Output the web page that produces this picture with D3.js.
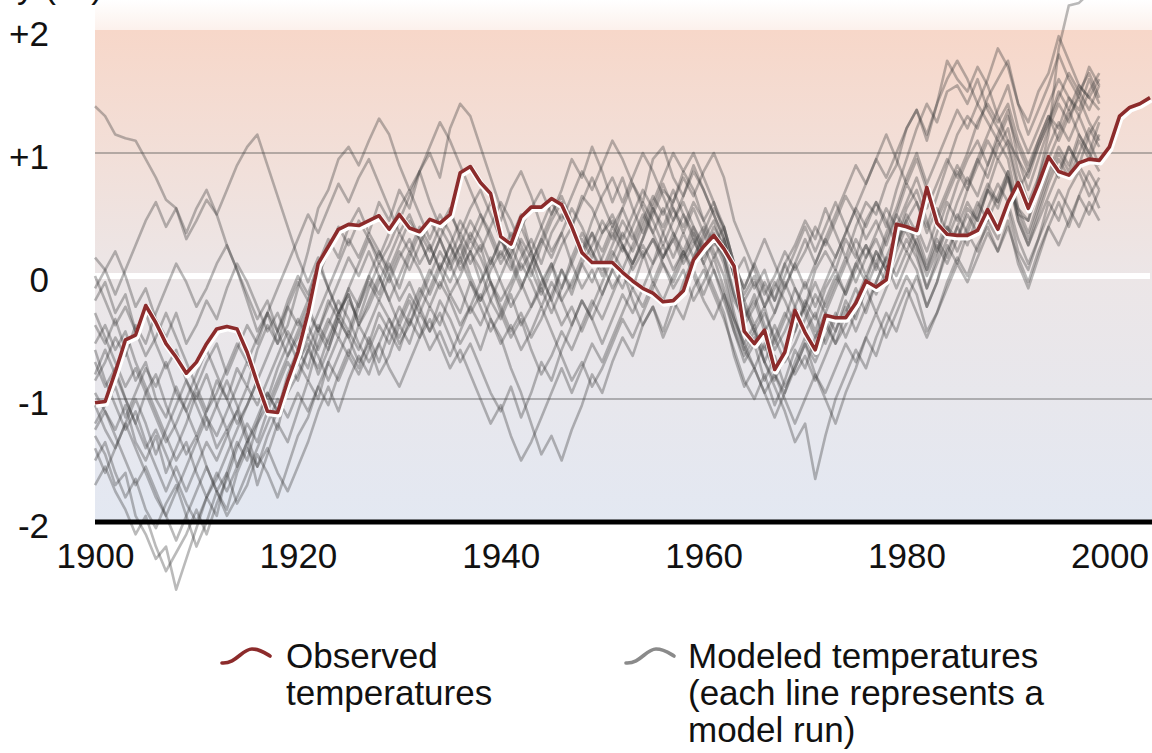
<!DOCTYPE html>
<html>
<head>
<meta charset="utf-8">
<script src="https://cdn.jsdelivr.net/npm/d3@7"></script>
<style>
  body { margin: 0; background: #fff; }
  svg { display: block; font-family: "Liberation Sans", Arial, sans-serif; }
</style>
</head>
<body>
<div class="chart"></div>
<script>
// x axis tick labels and y axis ticks
const xTicks = [1900, 1920, 1940, 1960, 1980, 2000];
const yTicks = [-2, -1, 0, 1, 2];

// observed temperature anomaly (°F), one value per year from 1900
const obsStart = 1900;
const observed = [
  -1.03, -1.02, -0.78, -0.52, -0.48, -0.24, -0.38, -0.55, -0.66, -0.79,
  -0.70, -0.55, -0.43, -0.41, -0.43, -0.62, -0.87, -1.10, -1.11, -0.85,
  -0.62, -0.30, 0.10, 0.24, 0.38, 0.42, 0.41, 0.45, 0.49, 0.38,
  0.50, 0.39, 0.36, 0.46, 0.43, 0.50, 0.84, 0.89, 0.76, 0.67,
  0.32, 0.26, 0.48, 0.56, 0.56, 0.63, 0.58, 0.40, 0.19, 0.11,
  0.11, 0.11, 0.03, -0.04, -0.10, -0.14, -0.21, -0.20, -0.12, 0.13,
  0.24, 0.33, 0.22, 0.08, -0.45, -0.55, -0.44, -0.76, -0.62, -0.28,
  -0.46, -0.60, -0.32, -0.34, -0.34, -0.22, -0.04, -0.09, -0.03, 0.42,
  0.40, 0.37, 0.72, 0.43, 0.34, 0.33, 0.33, 0.37, 0.54, 0.38,
  0.60, 0.76, 0.55, 0.75, 0.97, 0.85, 0.82, 0.92, 0.95, 0.94,
  1.05, 1.30, 1.37, 1.40, 1.45
];

// modeled runs, one value per year from 1900 to 1999
const modelStart = 1900;
const modelRuns = [
  [1.38,1.30,1.15,1.12,1.10,0.95,0.80,0.62,0.55,0.30, 0.45,0.62,0.50,0.25,0.05,-0.20,-0.45,-0.30,-0.55,-0.40,
   -0.10,0.20,0.55,0.70,0.95,1.05,0.90,1.10,1.28,1.15, 0.90,0.70,0.85,0.60,0.40,0.55,0.30,0.10,0.25,-0.05,
   -0.20,-0.05,0.15,0.30,0.10,0.35,0.50,0.40,0.65,0.55, 0.35,0.45,0.25,0.10,0.30,0.50,0.70,0.60,0.85,0.70,
   0.45,0.60,0.35,0.05,-0.20,-0.40,-0.25,-0.55,-0.35,-0.10, -0.25,0.05,0.20,0.05,0.30,0.15,0.45,0.60,0.40,0.70,
   0.95,1.20,1.40,1.25,1.50,1.55,1.40,1.60,1.35,1.20, 1.05,0.70,0.85,1.10,1.30,1.20,1.45,1.35,1.60,1.40],
  [-1.30,-1.45,-1.70,-1.60,-1.95,-2.10,-2.30,-2.20,-2.55,-2.30, -2.05,-1.80,-1.95,-1.60,-1.35,-1.50,-1.20,-1.05,-1.25,-0.90,
   -0.70,-0.85,-0.55,-0.35,-0.50,-0.20,-0.35,-0.10,0.10,-0.05, 0.15,0.30,0.10,0.25,0.05,-0.15,0.00,0.20,0.05,-0.20,
   -0.35,-0.15,-0.40,-0.25,-0.05,0.10,-0.10,0.15,0.35,0.20, 0.05,0.25,0.45,0.30,0.50,0.35,0.15,0.30,0.10,0.25,
   0.40,0.20,0.00,-0.35,-0.55,-0.40,-0.70,-0.50,-0.30,-0.45, -0.20,-0.35,-0.10,0.05,-0.15,0.10,0.25,0.05,0.30,0.50,
   0.35,0.20,-0.10,0.15,0.40,0.30,0.55,0.45,0.70,0.60, 0.85,0.50,0.45,0.80,1.15,1.85,2.20,2.22,2.30,2.40],
  [-0.40,-0.55,-0.35,-0.60,-0.85,-0.70,-1.00,-1.15,-0.90,-1.10, -1.30,-1.10,-0.85,-1.00,-0.75,-0.90,-0.60,-0.40,-0.55,-0.25,
   -0.05,-0.20,0.10,0.30,0.15,0.40,0.55,0.35,0.60,0.45, 0.70,0.55,0.85,1.00,0.80,1.20,1.40,1.30,1.05,0.80,
   0.55,0.30,0.50,0.20,0.00,-0.20,0.05,-0.15,0.10,0.25, 0.45,0.30,0.55,0.75,0.60,0.95,1.05,0.80,0.65,0.90,
   0.70,0.50,0.30,0.00,0.15,-0.10,0.05,-0.20,0.10,0.25, 0.45,0.30,0.55,0.35,0.15,0.40,0.60,0.50,0.75,0.90,
   1.20,1.35,1.10,1.40,1.75,1.60,1.50,1.70,1.55,1.30, 1.10,0.95,0.80,1.05,1.25,1.50,1.35,1.55,1.45,1.60],
  [-0.95,-1.10,-1.25,-1.05,-1.35,-1.50,-1.30,-1.60,-1.40,-1.20, -0.95,-1.15,-1.40,-1.25,-1.55,-1.35,-1.70,-1.45,-1.20,-1.35,
   -1.10,-0.85,-1.00,-0.70,-0.50,-0.65,-0.40,-0.55,-0.30,-0.45, -0.60,-0.35,-0.50,-0.25,-0.40,-0.15,-0.30,-0.05,-0.20,0.05,
   0.20,0.05,0.30,0.15,-0.10,0.10,-0.20,-0.05,0.15,0.35, 0.20,0.40,0.25,0.05,0.20,-0.05,0.15,0.30,0.50,0.35,
   0.15,0.30,0.10,-0.30,-0.60,-0.75,-0.55,-0.80,-0.95,-0.70, -0.50,-0.65,-0.40,-0.55,-0.30,-0.10,-0.30,-0.05,0.15,0.00,
   0.20,0.05,-0.25,-0.05,0.25,0.10,0.35,0.20,0.45,0.30, 0.55,0.20,0.05,0.30,0.60,0.45,0.70,0.85,0.65,0.80],
  [-0.20,-0.05,-0.30,-0.15,-0.45,-0.30,-0.55,-0.75,-0.60,-0.85, -1.00,-0.80,-1.05,-1.25,-1.10,-1.35,-1.20,-0.95,-1.10,-0.80,
   -0.60,-0.75,-0.45,-0.60,-0.35,-0.50,-0.70,-0.55,-0.80,-0.65, -0.40,-0.55,-0.30,-0.45,-0.20,-0.35,-0.55,-0.40,-0.60,-0.35,
   -0.50,-0.75,-0.95,-1.20,-1.45,-1.30,-1.50,-1.25,-1.05,-0.80, -0.95,-0.70,-0.50,-0.65,-0.40,-0.25,-0.45,-0.20,-0.35,-0.10,
   0.05,-0.15,-0.35,-0.60,-0.85,-1.00,-0.80,-1.05,-0.85,-0.60, -0.75,-0.50,-0.30,-0.45,-0.20,-0.35,-0.10,0.10,-0.05,0.20,
   0.40,0.25,0.05,0.30,0.15,0.40,0.60,0.45,0.70,0.95, 0.80,0.55,0.35,0.60,0.85,1.05,0.90,1.15,1.00,1.25],
  [-1.50,-1.35,-1.60,-1.80,-1.65,-1.90,-2.05,-1.85,-1.70,-1.95, -2.20,-2.00,-1.75,-1.90,-1.60,-1.40,-1.55,-1.30,-1.10,-0.95,
   -0.80,-0.60,-0.75,-0.50,-0.30,-0.45,-0.20,0.00,-0.15,0.10, -0.10,0.15,0.35,0.20,0.40,0.25,0.05,0.20,-0.05,0.10,
   0.30,0.15,0.40,0.55,0.70,0.50,0.65,0.45,0.20,0.35, 0.10,-0.10,0.05,-0.20,-0.40,-0.25,-0.50,-0.30,-0.05,0.15,
   0.30,0.45,0.20,-0.15,-0.35,-0.20,-0.45,-0.30,-0.05,-0.25, -0.45,-0.30,-0.55,-0.35,-0.10,0.10,-0.05,0.20,0.05,0.30,
   0.55,0.70,0.45,0.20,0.50,0.75,0.95,1.10,0.90,1.15, 1.35,0.95,0.70,0.95,1.20,1.40,1.25,1.50,1.65,1.45],
  [-0.70,-0.90,-0.75,-1.00,-1.20,-0.95,-0.80,-1.05,-1.25,-1.45, -1.30,-1.55,-1.75,-1.60,-1.85,-1.70,-1.45,-1.60,-1.80,-1.55,
   -1.30,-1.15,-0.90,-1.05,-0.80,-0.60,-0.75,-0.50,-0.70,-0.45, -0.25,-0.40,-0.15,0.05,-0.10,0.15,0.35,0.20,0.40,0.60,
   0.45,0.70,0.85,0.65,0.40,0.20,0.35,0.10,-0.10,0.05, -0.15,0.05,0.25,0.10,0.30,0.55,0.40,0.60,0.80,0.65,
   0.85,1.00,0.80,0.45,0.25,0.05,-0.15,0.00,0.20,0.05, 0.20,0.40,0.25,0.45,0.65,0.50,0.30,0.45,0.25,0.50,
   0.75,0.60,0.40,0.65,0.90,1.15,1.30,1.20,1.45,1.60, 1.75,1.40,1.15,1.35,1.55,1.80,1.60,1.45,1.70,1.55],
  [-0.10,0.05,0.20,0.00,-0.25,-0.10,-0.35,-0.50,-0.30,-0.55, -0.40,-0.20,-0.35,-0.10,0.10,-0.05,-0.25,-0.45,-0.30,-0.50,
   -0.70,-0.55,-0.80,-0.60,-0.35,-0.50,-0.25,-0.05,-0.20,0.00, 0.20,0.05,0.25,0.45,0.30,0.10,0.25,0.00,-0.20,-0.05,
   -0.30,-0.50,-0.35,-0.60,-0.80,-0.65,-0.45,-0.60,-0.40,-0.20, -0.35,-0.15,0.05,-0.10,0.15,0.30,0.15,0.35,0.20,0.40,
   0.25,0.05,-0.20,-0.45,-0.70,-0.55,-0.85,-0.65,-0.90,-0.75, -0.55,-0.80,-1.00,-1.20,-0.95,-0.75,-0.50,-0.65,-0.40,-0.20,
   0.00,-0.15,-0.45,-0.30,-0.05,0.15,0.00,0.25,0.40,0.20, 0.45,0.10,-0.10,0.15,0.40,0.60,0.40,0.65,0.85,0.70],
  [-1.20,-1.05,-0.90,-1.15,-0.95,-0.75,-0.90,-0.70,-0.95,-1.10, -0.90,-0.70,-0.55,-0.80,-0.60,-0.40,-0.55,-0.30,-0.45,-0.20,
   0.00,-0.15,0.10,-0.10,-0.30,-0.15,-0.40,-0.25,-0.05,0.15, 0.35,0.20,0.40,0.25,0.05,0.25,0.45,0.30,0.50,0.35,
   0.15,0.35,0.20,0.00,0.25,0.45,0.60,0.40,0.60,0.80, 0.60,0.40,0.55,0.35,0.15,0.30,0.10,-0.10,0.05,-0.20,
   -0.05,0.15,-0.10,-0.40,-0.60,-0.45,-0.70,-0.90,-1.10,-1.35, -1.20,-1.65,-1.30,-1.00,-0.80,-0.60,-0.75,-0.50,-0.30,-0.45,
   -0.20,0.00,-0.25,-0.05,0.20,0.40,0.25,0.50,0.70,0.55, 0.80,0.50,0.30,0.55,0.80,1.00,0.85,1.10,0.95,1.15],
  [-0.55,-0.40,-0.60,-0.45,-0.70,-0.90,-1.10,-1.30,-1.50,-1.35, -1.60,-1.80,-1.65,-1.45,-1.25,-1.05,-0.85,-1.00,-0.75,-0.55,
   -0.35,-0.50,-0.30,-0.10,0.10,0.30,0.15,0.35,0.20,0.00, -0.20,-0.05,-0.25,-0.45,-0.30,-0.50,-0.70,-0.55,-0.75,-0.95,
   -1.10,-0.90,-1.15,-0.95,-0.70,-0.85,-0.60,-0.40,-0.20,-0.35, -0.15,0.05,-0.10,0.10,0.25,0.10,0.35,0.55,0.40,0.60,
   0.45,0.25,0.40,0.10,-0.15,0.00,-0.25,-0.05,-0.20,-0.40, -0.25,-0.45,-0.20,0.00,-0.15,0.05,0.25,0.10,0.35,0.55,
   0.80,1.00,0.75,0.95,1.15,1.35,1.20,1.40,1.60,1.85, 1.70,1.40,1.25,1.50,1.65,1.95,1.75,1.55,1.45,1.35],
  [-0.85,-0.70,-0.50,-0.65,-0.40,-0.55,-0.30,-0.10,0.10,-0.05, -0.25,-0.10,0.10,0.25,0.05,-0.15,-0.35,-0.20,-0.45,-0.65,
   -0.50,-0.30,-0.45,-0.20,-0.35,-0.10,0.10,0.30,0.15,0.35, 0.55,0.70,0.50,0.30,0.50,0.35,0.15,0.35,0.20,0.40,
   0.60,0.45,0.25,0.05,-0.15,0.05,0.25,0.40,0.20,0.45, 0.65,0.80,0.60,0.80,1.00,0.85,0.65,0.45,0.60,0.40,
   0.20,0.35,0.15,-0.15,-0.40,-0.25,-0.05,-0.20,0.00,0.20, 0.40,0.20,0.40,0.60,0.40,0.20,0.00,0.20,0.05,0.25,
   0.50,0.35,0.10,0.35,0.60,0.45,0.70,0.95,0.80,1.05, 1.20,0.85,0.60,0.80,1.05,1.25,1.10,1.30,1.50,1.65],
  [-1.70,-1.55,-1.75,-1.90,-2.10,-1.95,-2.20,-2.40,-2.25,-2.10, -1.90,-2.10,-1.85,-1.65,-1.40,-1.20,-1.35,-1.10,-0.90,-0.70,
   -0.85,-0.60,-0.40,-0.55,-0.30,-0.10,-0.25,0.00,0.20,0.05, 0.25,0.45,0.30,0.10,0.30,0.50,0.35,0.55,0.70,0.50,
   0.30,0.10,-0.10,0.10,0.30,0.15,0.35,0.55,0.40,0.20, 0.00,0.20,0.05,0.25,0.45,0.65,0.50,0.70,0.50,0.30,
   0.10,-0.10,-0.30,-0.65,-0.90,-0.75,-0.95,-1.15,-0.95,-0.75, -0.55,-0.70,-0.50,-0.30,-0.50,-0.30,-0.10,-0.30,-0.10,0.10,
   0.30,0.15,-0.10,0.10,0.30,0.50,0.35,0.55,0.75,0.60, 0.80,0.45,0.25,0.50,0.75,0.95,0.80,1.00,1.20,1.05],
  [0.15,0.05,-0.15,0.05,0.25,0.45,0.60,0.40,0.55,0.35, 0.55,0.70,0.50,0.70,0.90,1.05,1.15,0.90,0.65,0.40,
   0.15,-0.05,0.15,-0.10,-0.30,-0.15,-0.40,-0.20,0.00,-0.20, -0.40,-0.20,-0.40,-0.60,-0.45,-0.65,-0.45,-0.25,-0.40,-0.20,
   0.00,0.20,0.40,0.20,0.40,0.60,0.45,0.65,0.85,0.70, 0.90,1.10,0.95,0.75,0.55,0.35,0.55,0.35,0.15,0.30,
   0.10,0.30,0.15,-0.20,-0.35,-0.15,-0.40,-0.60,-0.45,-0.25, -0.05,-0.25,-0.05,0.15,0.35,0.55,0.40,0.60,0.45,0.25,
   0.45,0.60,0.35,0.55,0.35,0.60,0.80,0.65,0.90,1.10, 0.95,0.55,0.45,0.70,0.95,0.80,1.05,0.90,1.15,1.30],
  [-1.05,-1.25,-1.40,-1.20,-1.00,-1.20,-1.45,-1.25,-1.05,-0.85, -1.05,-1.25,-1.05,-0.85,-1.05,-1.30,-1.55,-1.40,-1.60,-1.75,
   -1.55,-1.35,-1.10,-0.90,-1.10,-0.85,-0.65,-0.80,-0.55,-0.35, -0.50,-0.30,-0.10,-0.25,-0.05,-0.20,-0.40,-0.25,-0.05,0.15,
   -0.05,-0.25,-0.10,0.10,0.30,0.50,0.70,0.95,0.80,1.05, 0.85,0.60,0.80,0.55,0.35,0.55,0.35,0.15,0.35,0.15,
   0.35,0.55,0.40,0.10,-0.10,0.10,0.30,0.10,-0.10,0.10, -0.10,0.10,0.30,0.15,0.35,0.55,0.75,0.95,0.80,1.00,
   1.20,1.35,1.15,1.40,1.60,1.75,1.60,1.40,1.25,1.10, 1.30,1.05,0.85,1.05,1.25,1.45,1.65,1.50,1.35,1.55],
  [-0.60,-0.85,-1.05,-1.25,-1.10,-1.35,-1.55,-1.75,-1.55,-1.75, -1.55,-1.35,-1.50,-1.30,-1.10,-0.90,-1.05,-0.85,-0.65,-0.45,
   -0.60,-0.40,-0.60,-0.40,-0.20,-0.35,-0.55,-0.70,-0.55,-0.75, -0.90,-0.70,-0.50,-0.35,-0.55,-0.75,-0.60,-0.80,-1.00,-1.20,
   -1.05,-1.30,-1.50,-1.35,-1.15,-0.95,-0.75,-0.95,-0.75,-0.55, -0.70,-0.50,-0.30,-0.10,-0.25,-0.05,-0.20,0.00,0.20,0.05,
   -0.15,0.05,-0.15,-0.35,-0.55,-0.75,-0.95,-0.80,-1.00,-1.20, -1.00,-0.80,-0.95,-0.75,-0.55,-0.70,-0.50,-0.30,-0.50,-0.30,
   -0.10,-0.30,-0.50,-0.30,-0.10,0.10,-0.05,0.15,0.35,0.20, 0.40,0.15,-0.05,0.20,0.40,0.25,0.45,0.65,0.50,0.70],
  [-1.40,-1.60,-1.40,-1.20,-1.40,-1.60,-1.80,-1.95,-1.75,-1.55, -1.35,-1.15,-1.30,-1.10,-0.90,-0.70,-0.85,-1.05,-0.85,-0.65,
   -0.45,-0.25,-0.45,-0.25,-0.05,0.15,0.00,0.20,0.00,-0.20, 0.00,0.20,0.05,-0.15,0.05,0.25,0.10,0.30,0.15,-0.05,
   -0.25,-0.45,-0.30,-0.50,-0.35,-0.15,0.05,-0.10,0.10,-0.05, 0.15,0.35,0.20,0.40,0.60,0.45,0.25,0.45,0.65,0.85,
   0.70,0.50,0.30,0.00,-0.25,-0.45,-0.30,-0.50,-0.70,-0.55, -0.35,-0.15,-0.30,-0.10,0.10,0.30,0.15,0.35,0.55,0.40,
   0.60,0.80,0.55,0.75,0.95,0.80,1.00,1.25,1.40,1.25, 1.40,1.10,0.90,1.10,1.30,1.10,1.30,1.45,1.25,1.10],
  [0.00,-0.20,-0.40,-0.25,-0.45,-0.65,-0.50,-0.30,-0.50,-0.70, -0.90,-1.10,-0.95,-0.75,-0.55,-0.70,-0.50,-0.30,-0.10,0.10,
   0.30,0.50,0.35,0.55,0.75,0.60,0.80,0.95,0.75,0.55, 0.35,0.50,0.30,0.10,0.30,0.10,-0.10,-0.30,-0.15,-0.35,
   -0.55,-0.40,-0.60,-0.45,-0.25,-0.45,-0.65,-0.85,-0.70,-0.90, -0.75,-0.55,-0.35,-0.50,-0.30,-0.10,0.10,-0.05,0.15,0.35,
   0.20,0.40,0.25,0.05,-0.25,-0.45,-0.60,-0.40,-0.60,-0.80, -0.65,-0.85,-0.65,-0.45,-0.25,-0.45,-0.25,-0.05,0.15,0.35,
   0.20,0.40,0.20,0.45,0.65,0.85,0.70,0.90,1.10,0.95, 1.10,0.75,0.55,0.75,0.95,1.15,1.35,1.15,1.00,0.85],
  [-1.25,-1.10,-1.30,-1.50,-1.70,-1.55,-1.75,-1.95,-2.15,-1.95, -1.75,-1.55,-1.75,-1.95,-1.80,-1.60,-1.40,-1.20,-1.00,-1.15,
   -0.95,-1.10,-0.90,-0.70,-0.85,-0.65,-0.80,-0.60,-0.40,-0.55, -0.35,-0.15,-0.30,-0.10,0.10,-0.05,0.15,-0.05,-0.25,-0.45,
   -0.30,-0.10,0.10,-0.05,-0.25,-0.05,-0.20,-0.40,-0.20,-0.35, -0.55,-0.35,-0.15,-0.30,-0.10,0.10,0.25,0.05,0.20,0.00,
   -0.20,-0.35,-0.15,-0.45,-0.65,-0.50,-0.70,-0.85,-0.65,-0.45, -0.25,-0.05,-0.25,-0.05,0.15,-0.05,0.15,0.30,0.10,-0.10,
   0.10,0.30,0.05,0.25,0.10,0.30,0.50,0.35,0.55,0.75, 0.60,0.30,0.10,0.30,0.50,0.70,0.55,0.40,0.60,0.45],
  [-0.30,-0.50,-0.70,-0.90,-0.75,-0.95,-1.15,-1.35,-1.20,-1.00, -0.80,-0.60,-0.80,-1.00,-1.20,-1.05,-0.85,-0.65,-0.45,-0.25,
   -0.40,-0.20,0.00,0.20,0.40,0.25,0.45,0.30,0.10,0.25, 0.45,0.65,0.85,1.05,1.25,1.10,0.90,0.70,0.50,0.30,
   0.10,0.25,0.05,0.20,0.00,-0.20,-0.40,-0.25,-0.45,-0.25, -0.05,0.15,0.35,0.20,0.40,0.60,0.80,1.00,0.85,1.00,
   0.80,0.60,0.40,0.10,-0.10,0.10,-0.10,-0.30,-0.10,0.10, 0.30,0.10,0.30,0.50,0.70,0.90,0.75,0.95,1.15,0.95,
   0.75,0.95,0.70,0.50,0.70,0.90,0.75,0.95,1.15,1.35, 1.55,1.20,1.00,1.20,1.40,1.60,1.45,1.30,1.10,0.90],
  [-0.80,-0.60,-0.80,-1.00,-1.20,-1.40,-1.25,-1.45,-1.65,-1.85, -2.00,-1.80,-1.60,-1.75,-1.55,-1.35,-1.15,-0.95,-1.10,-0.90,
   -0.70,-0.50,-0.65,-0.85,-0.65,-0.45,-0.60,-0.40,-0.20,-0.35, -0.55,-0.40,-0.20,0.00,0.20,0.05,0.25,0.45,0.30,0.10,
   0.30,0.15,-0.05,-0.25,-0.10,-0.30,-0.10,0.10,0.30,0.15, 0.35,0.50,0.30,0.50,0.70,0.55,0.75,0.55,0.35,0.55,
   0.35,0.15,0.30,0.00,-0.20,-0.05,-0.25,-0.10,0.10,-0.10, -0.30,-0.50,-0.35,-0.55,-0.40,-0.20,0.00,-0.15,0.05,0.25,
   0.45,0.25,0.00,0.20,0.40,0.20,0.40,0.60,0.45,0.65, 0.85,0.45,0.25,0.45,0.65,0.85,1.05,0.90,0.75,0.55]
];

const legendObserved = ["Observed", "temperatures"];
const legendModeled = ["Modeled temperatures", "(each line represents a", "model run)"];
const axisTitle = "Temperature anomaly (°F)";

const width = 1152;
const height = 753;
const plotLeft = 95, plotRight = 1150, plotTop = 30, plotBottom = 522;
const fontSize = "35px";

const svg = d3.select(".chart")
    .append("svg")
    .attr("width", width)
    .attr("height", height);

const xScale = d3.scaleLinear().domain([1900, 2004]).range([plotLeft, plotRight]);
const yScale = d3.scaleLinear().domain([-2, 2]).range([plotBottom, plotTop]);

// background gradients
const defs = svg.append("defs");
const bg = defs.append("linearGradient")
    .attr("id", "bg").attr("x1", 0).attr("y1", 0).attr("x2", 0).attr("y2", 1);
bg.append("stop").attr("offset", "0%").attr("stop-color", "#f7d7c9");
bg.append("stop").attr("offset", "25%").attr("stop-color", "#f2dfd8");
bg.append("stop").attr("offset", "50%").attr("stop-color", "#ece6e7");
bg.append("stop").attr("offset", "100%").attr("stop-color", "#e3e8f2");
const fade = defs.append("linearGradient")
    .attr("id", "fade").attr("x1", 0).attr("y1", 0).attr("x2", 0).attr("y2", 1);
fade.append("stop").attr("offset", "0%").attr("stop-color", "#ffffff");
fade.append("stop").attr("offset", "100%").attr("stop-color", "#fcf1ec");

svg.append("rect")
    .attr("x", plotLeft).attr("y", 0)
    .attr("width", width - plotLeft).attr("height", plotTop)
    .attr("fill", "url(#fade)");
svg.append("rect")
    .attr("x", plotLeft).attr("y", plotTop)
    .attr("width", width - plotLeft).attr("height", plotBottom - plotTop)
    .attr("fill", "url(#bg)");

// axis title, mostly cut off at the top like the reference
svg.append("text")
    .attr("x", 103).attr("y", -2)
    .attr("text-anchor", "end")
    .style("font-size", fontSize)
    .attr("fill", "#111")
    .text(axisTitle);

// grid lines at +1 and -1
svg.selectAll(".grid")
    .data([1, -1])
    .enter()
    .append("line")
    .attr("x1", plotLeft).attr("x2", width)
    .attr("y1", d => yScale(d)).attr("y2", d => yScale(d))
    .attr("stroke", "#555")
    .attr("stroke-opacity", 0.8)
    .attr("stroke-width", 1);

// zero line
svg.append("line")
    .attr("x1", plotLeft).attr("x2", plotRight)
    .attr("y1", yScale(0)).attr("y2", yScale(0))
    .attr("stroke", "#fff")
    .attr("stroke-width", 6);

// model runs
const modelLine = d3.line()
    .x((d, i) => xScale(modelStart + i))
    .y(d => yScale(d));

svg.append("g")
    .selectAll("path")
    .data(modelRuns)
    .enter()
    .append("path")
    .attr("d", modelLine)
    .attr("fill", "none")
    .attr("stroke", "#3a3a3a")
    .attr("stroke-opacity", 0.35)
    .attr("stroke-width", 2.6)
    .attr("stroke-linejoin", "round");

// bottom axis line
svg.append("line")
    .attr("x1", plotLeft).attr("x2", width)
    .attr("y1", yScale(-2)).attr("y2", yScale(-2))
    .attr("stroke", "#000")
    .attr("stroke-width", 5);

// observed line with white halo
const obsLine = d3.line()
    .x((d, i) => xScale(obsStart + i))
    .y(d => yScale(d));

svg.append("path")
    .datum(observed)
    .attr("d", obsLine)
    .attr("transform", "translate(1,2)")
    .attr("fill", "none")
    .attr("stroke", "#fff")
    .attr("stroke-width", 6)
    .attr("stroke-linejoin", "round");
svg.append("path")
    .datum(observed)
    .attr("d", obsLine)
    .attr("fill", "none")
    .attr("stroke", "#8c2b2b")
    .attr("stroke-width", 3.6)
    .attr("stroke-linejoin", "round");

// axes
const xAxis = d3.axisBottom(xScale).tickValues(xTicks).tickSize(0).tickFormat(d => String(d));
const gx = svg.append("g")
    .attr("transform", "translate(0,568)")
    .call(xAxis);
gx.select(".domain").remove();
gx.selectAll("text")
    .attr("y", 0).attr("dy", 0)
    .style("font-size", fontSize)
    .style("font-family", "'Liberation Sans', Arial, sans-serif")
    .attr("fill", "#111");

const yAxis = d3.axisLeft(yScale).tickValues(yTicks).tickSize(0)
    .tickFormat(d => d > 0 ? "+" + d : String(d));
const gy = svg.append("g")
    .attr("transform", "translate(49,0)")
    .call(yAxis);
gy.select(".domain").remove();
gy.selectAll("text")
    .attr("x", 0).attr("dy", "0.45em")
    .style("font-size", fontSize)
    .style("font-family", "'Liberation Sans', Arial, sans-serif")
    .attr("fill", "#111");

// legend
const squiggle = (x, y) => `M${x},${y + 8} C${x + 14},${y + 9} ${x + 20},${y - 6} ${x + 30},${y - 6} C${x + 38},${y - 6} ${x + 43},${y - 2} ${x + 48},${y + 1}`;

svg.append("path")
    .attr("d", squiggle(222, 655))
    .attr("fill", "none")
    .attr("stroke", "#8c2b2b")
    .attr("stroke-width", 3.6)
    .attr("stroke-linecap", "round");
svg.append("path")
    .attr("d", squiggle(626, 655))
    .attr("fill", "none")
    .attr("stroke", "#8a8a8a")
    .attr("stroke-width", 3.6)
    .attr("stroke-linecap", "round");

svg.selectAll(".legObs")
    .data(legendObserved)
    .enter()
    .append("text")
    .attr("x", 286)
    .attr("y", (d, i) => 668 + i * 37)
    .style("font-size", fontSize)
    .attr("fill", "#111")
    .text(d => d);

svg.selectAll(".legMod")
    .data(legendModeled)
    .enter()
    .append("text")
    .attr("x", 688)
    .attr("y", (d, i) => 668 + i * 37)
    .style("font-size", fontSize)
    .attr("fill", "#111")
    .text(d => d);
</script>
</body>
</html>
